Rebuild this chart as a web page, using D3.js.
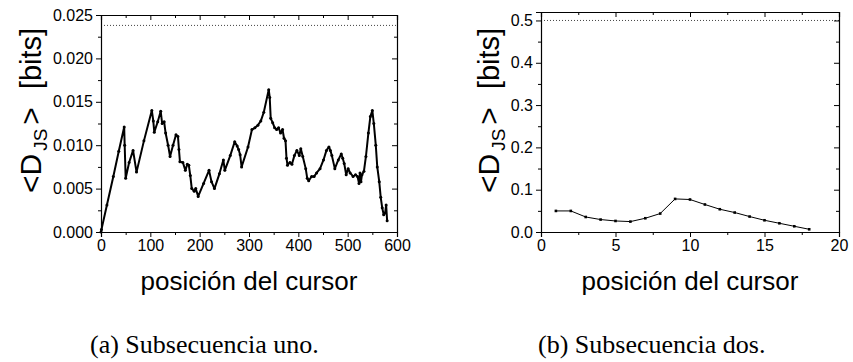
<!DOCTYPE html>
<html>
<head>
<meta charset="utf-8">
<script src="https://cdn.jsdelivr.net/npm/d3@7"></script>
<style>
  html, body { margin: 0; padding: 0; background: #fff; }
  svg { display: block; }
  .tick text { font-family: "Liberation Sans", Arial, sans-serif; font-size: 16px; fill: #000; }
  .domain, .tick line { stroke: #000; }
</style>
</head>
<body>
<svg id="fig" width="853" height="362"></svg>
<script>
// Panel (a): mean Jensen-Shannon divergence along subsequence one
const posA = [0, 1, 12, 25, 36, 47, 48, 50, 57, 65, 72, 87, 103, 106, 108, 115, 121, 124, 128, 131,
  136, 140, 146, 152, 156, 158, 160, 166, 171, 175, 178, 181, 184, 189, 192, 197, 208, 219, 224, 230,
  240, 248, 251, 262, 271, 276, 279, 282, 285, 298, 306, 312, 318, 324, 330, 340, 342, 344, 348, 352,
  356, 360, 364, 368, 371, 374, 376, 378, 383, 387, 392, 397, 402, 405, 409, 415, 418, 421, 427, 432,
  437, 444, 451, 457, 462, 465, 468, 474, 481, 487, 490, 493, 497, 501, 505, 511, 516, 520, 523, 525,
  527, 529, 533, 537, 542, 546, 550, 553, 557, 560, 564, 567, 570, 573, 576, 578, 580];
const djsA = [0.0000, 0.0003, 0.0031, 0.0064, 0.0093, 0.0121, 0.0100, 0.0062, 0.0080, 0.0094, 0.0069, 0.0105, 0.0140, 0.0128, 0.0115, 0.0127, 0.0139, 0.0125, 0.0127, 0.0114,
  0.0100, 0.0087, 0.0100, 0.0112, 0.0110, 0.0095, 0.0081, 0.0080, 0.0071, 0.0078, 0.0077, 0.0065, 0.0050, 0.0047, 0.0050, 0.0041, 0.0056, 0.0071, 0.0058, 0.0050,
  0.0067, 0.0083, 0.0071, 0.0088, 0.0104, 0.0099, 0.0095, 0.0089, 0.0075, 0.0098, 0.0118, 0.0120, 0.0123, 0.0128, 0.0138, 0.0164, 0.0155, 0.0131, 0.0126, 0.0120,
  0.0118, 0.0120, 0.0114, 0.0118, 0.0108, 0.0105, 0.0085, 0.0077, 0.0080, 0.0078, 0.0088, 0.0094, 0.0088, 0.0096, 0.0087, 0.0073, 0.0062, 0.0059, 0.0064, 0.0064,
  0.0068, 0.0073, 0.0083, 0.0094, 0.0098, 0.0094, 0.0088, 0.0073, 0.0083, 0.0090, 0.0085, 0.0079, 0.0066, 0.0073, 0.0068, 0.0064, 0.0066, 0.0064, 0.0056, 0.0068,
  0.0058, 0.0066, 0.0070, 0.0087, 0.0114, 0.0133, 0.0140, 0.0125, 0.0100, 0.0075, 0.0058, 0.0040, 0.0028, 0.0020, 0.0022, 0.0031, 0.0013];
const refA = 0.0238;

// Panel (b): subsequence two
const posB = [1, 2, 3, 4, 5, 6, 7, 8, 9, 10, 11, 12, 13, 14, 15, 16, 17, 18];
const djsB = [0.0498, 0.0498, 0.0355, 0.0294, 0.0261, 0.0246, 0.0325, 0.0436, 0.0782, 0.0768,
  0.0650, 0.0538, 0.0460, 0.0365, 0.0277, 0.0206, 0.0135, 0.0064];
const refB = 0.5;

// Axis ticks
const xTicksA = [0, 100, 200, 300, 400, 500, 600];
const xMinorA = [50, 150, 250, 350, 450, 550];
const yTicksA = [0, 0.005, 0.010, 0.015, 0.020, 0.025];
const yMinorA = [0.0025, 0.0075, 0.0125, 0.0175, 0.0225];
const xTicksB = [0, 5, 10, 15, 20];
const xMinorB = [2.5, 7.5, 12.5, 17.5];
const yTicksB = [0, 0.1, 0.2, 0.3, 0.4, 0.5];
const yMinorB = [0.05, 0.15, 0.25, 0.35, 0.45];

const xTitle = "posición del cursor";
const captions = ["(a) Subsecuencia uno.", "(b) Subsecuencia dos."];

const svg = d3.select("#fig");

function panel(cfg) {
  const g = svg.append("g");
  const x = d3.scaleLinear().domain(cfg.xDomain).range([cfg.left, cfg.right]);
  const y = d3.scaleLinear().domain(cfg.yDomain).range([cfg.bottom, cfg.top]);

  // reference level (dotted)
  g.append("line")
    .attr("x1", cfg.left).attr("x2", cfg.right)
    .attr("y1", y(cfg.ref)).attr("y2", y(cfg.ref))
    .attr("stroke", "#444").attr("stroke-width", 1)
    .attr("stroke-dasharray", "1,2");

  // data line with markers
  const pts = cfg.xs.map((v, i) => [v, cfg.ys[i]]);
  g.append("path").datum(pts)
    .attr("fill", "none").attr("stroke", "#000")
    .attr("stroke-width", cfg.lineW).attr("stroke-linejoin", "round")
    .attr("d", d3.line().x(d => x(d[0])).y(d => y(d[1])));
  if (cfg.square) {
    g.selectAll("rect.pt").data(pts).join("rect").attr("class", "pt")
      .attr("x", d => x(d[0]) - 1.3).attr("y", d => y(d[1]) - 1.3)
      .attr("width", 2.6).attr("height", 2.6).attr("fill", "#000");
  } else {
    g.selectAll("circle.pt").data(pts).join("circle").attr("class", "pt")
      .attr("cx", d => x(d[0])).attr("cy", d => y(d[1])).attr("r", 1.5).attr("fill", "#000");
  }

  // axes: labelled bottom/left with outward ticks, mirrored top/right with inward ticks
  g.append("g").attr("transform", `translate(0,${cfg.bottom})`)
    .call(d3.axisBottom(x).tickValues(cfg.xTicks).tickSize(5).tickPadding(3).tickFormat(d3.format("d")));
  g.append("g").attr("transform", `translate(0,${cfg.bottom})`)
    .call(d3.axisBottom(x).tickValues(cfg.xMinor).tickSize(3).tickFormat(""))
    .select(".domain").remove();
  g.append("g").attr("transform", `translate(${cfg.left},0)`)
    .call(d3.axisLeft(y).tickValues(cfg.yTicks).tickSize(5).tickPadding(3).tickFormat(d3.format(cfg.yFmt)));
  g.append("g").attr("transform", `translate(${cfg.left},0)`)
    .call(d3.axisLeft(y).tickValues(cfg.yMinor).tickSize(3).tickFormat(""))
    .select(".domain").remove();
  g.append("g").attr("transform", `translate(0,${cfg.top})`)
    .call(d3.axisTop(x).tickValues(cfg.xTicks).tickSize(-5).tickFormat(""));
  g.append("g").attr("transform", `translate(0,${cfg.top})`)
    .call(d3.axisTop(x).tickValues(cfg.xMinor).tickSize(-3).tickFormat(""))
    .select(".domain").remove();
  g.append("g").attr("transform", `translate(${cfg.right},0)`)
    .call(d3.axisRight(y).tickValues(cfg.yTicks).tickSize(-5).tickFormat(""));
  g.append("g").attr("transform", `translate(${cfg.right},0)`)
    .call(d3.axisRight(y).tickValues(cfg.yMinor).tickSize(-3).tickFormat(""))
    .select(".domain").remove();
  g.selectAll(".domain").attr("stroke-width", 1.2);

  // x title
  g.append("text")
    .attr("x", (cfg.left + cfg.right) / 2).attr("y", 290)
    .attr("text-anchor", "middle")
    .style("font-family", "'Liberation Sans', Arial, sans-serif")
    .style("font-size", "26px")
    .text(xTitle);

  // y title: <D_JS>  [bits]
  const yt = g.append("text")
    .attr("transform", `translate(${cfg.yTitleX},193) rotate(-90)`)
    .attr("text-anchor", "start")
    .style("font-family", "'Liberation Sans', Arial, sans-serif")
    .style("font-size", "30px")
    .attr("xml:space", "preserve");
  yt.append("tspan").text("<D");
  yt.append("tspan").attr("dx", 3).attr("dy", 6).style("font-size", "19px").text("JS");
  yt.append("tspan").attr("dx", 4).attr("dy", -6).text(">");
  yt.append("tspan").attr("dx", 18).style("font-size", "29px").text("[bits]");

  // caption
  g.append("text")
    .attr("x", cfg.capX).attr("y", 353)
    .style("font-family", "'Liberation Serif', 'Times New Roman', serif")
    .style("font-size", "26px")
    .text(cfg.caption);
}

panel({
  xs: posA, ys: djsA, ref: refA,
  xDomain: [0, 600], yDomain: [0, 0.025],
  left: 101, right: 397, top: 15, bottom: 232,
  xTicks: xTicksA, xMinor: xMinorA, yTicks: yTicksA, yMinor: yMinorA, yFmt: ".3f",
  lineW: 2, square: false, yTitleX: 41, capX: 90, caption: captions[0]
});

panel({
  xs: posB, ys: djsB, ref: refB,
  xDomain: [0, 20], yDomain: [0, 0.52],
  left: 541, right: 839, top: 12, bottom: 232,
  xTicks: xTicksB, xMinor: xMinorB, yTicks: yTicksB, yMinor: yMinorB, yFmt: ".1f",
  lineW: 1, square: true, yTitleX: 499, capX: 538, caption: captions[1]
});
</script>
</body>
</html>
